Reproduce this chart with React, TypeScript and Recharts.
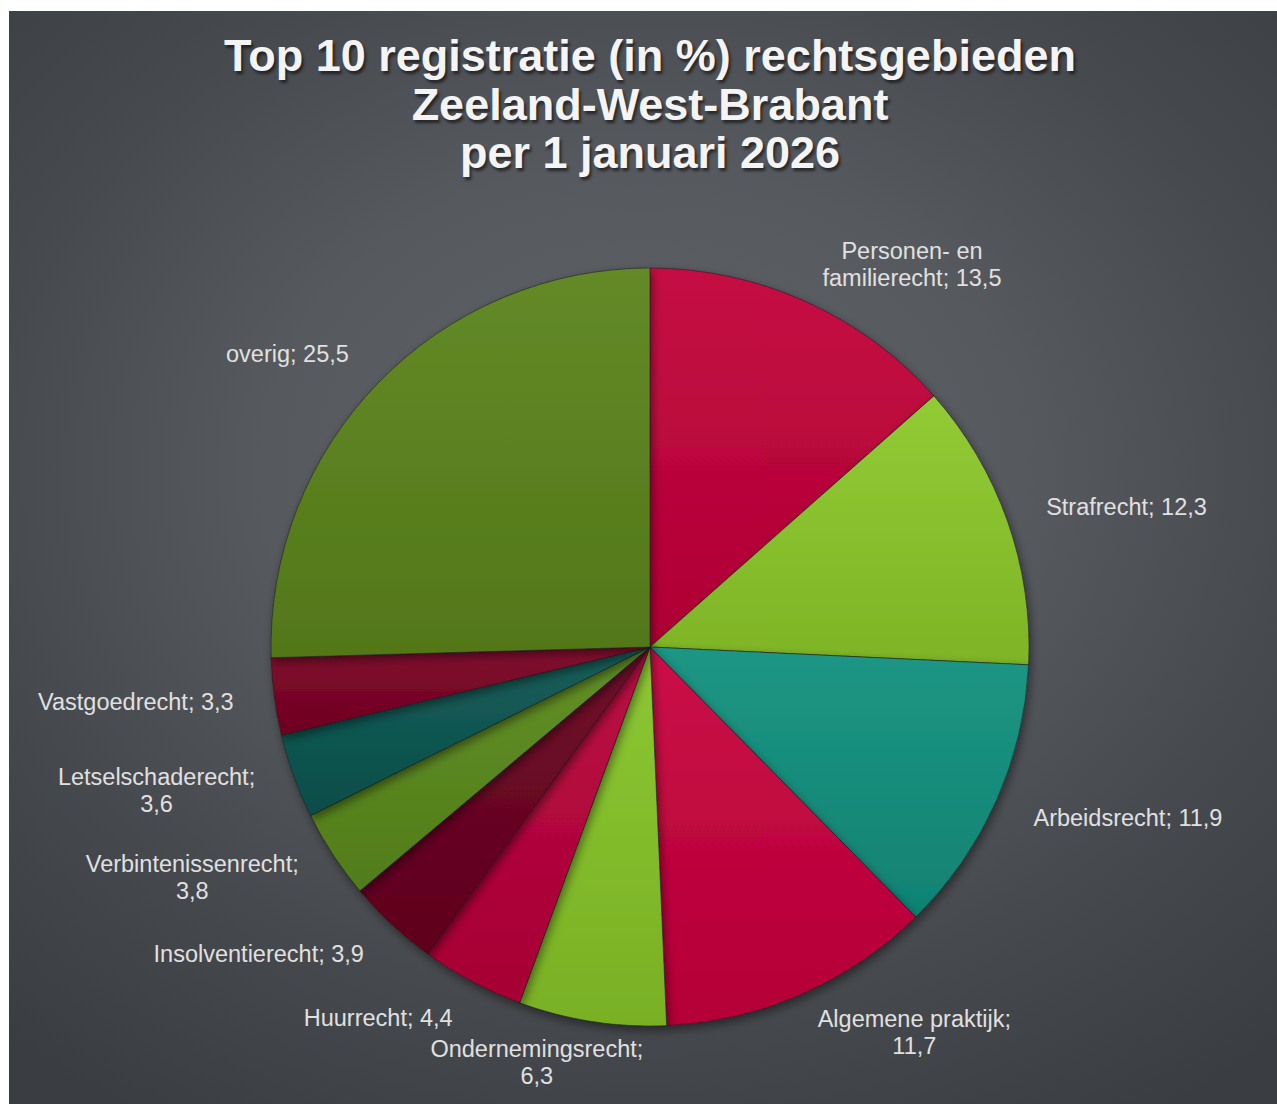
import { PieChart, Pie, Cell } from "recharts";

const CATEGORIES = [
  "Personen- en\nfamilierecht",
  "Strafrecht",
  "Arbeidsrecht",
  "Algemene praktijk",
  "Ondernemingsrecht",
  "Huurrecht",
  "Insolventierecht",
  "Verbintenissenrecht",
  "Letselschaderecht",
  "Vastgoedrecht",
  "overig",
];

const VALUES = [13.5, 12.3, 11.9, 11.7, 6.3, 4.4, 3.9, 3.8, 3.6, 3.3, 25.5];

// labels where the value wraps onto its own line
const VALUE_ON_NEW_LINE = ["Algemene praktijk", "Ondernemingsrecht", "Verbintenissenrecht", "Letselschaderecht"];

const COLORS = [
  "#c2003a", "#8cc82a", "#12907f", "#c8003d", "#86c428", "#b8003a",
  "#6a0020", "#5a8a1c", "#0b5550", "#7a0024", "#5b841c",
];

const TITLE = ["Top 10 registratie (in %) rechtsgebieden", "Zeeland-West-Brabant", "per 1 januari 2026"];

const data = CATEGORIES.map((name, i) => ({ name, value: VALUES[i] }));

const FONT = "'Liberation Sans', Arial, sans-serif";
const LABEL_SIZE = 23.5;
const RAD = Math.PI / 180;

let ctx: CanvasRenderingContext2D | null = null;
function textWidth(s: string) {
  if (!ctx) ctx = document.createElement("canvas").getContext("2d");
  if (!ctx) return s.length * LABEL_SIZE * 0.5;
  ctx.font = `${LABEL_SIZE}px ${FONT}`;
  return ctx.measureText(s).width;
}

function shade(hex: string, amt: number) {
  const n = parseInt(hex.slice(1), 16);
  const f = (c: number) => Math.max(0, Math.min(255, Math.round(c + amt * (amt > 0 ? 255 - c : c))));
  const r = f((n >> 16) & 255), g = f((n >> 8) & 255), b = f(n & 255);
  return `rgb(${r},${g},${b})`;
}

function renderLabel(props: any) {
  const { cx, cy, midAngle, outerRadius, index } = props;
  const name = CATEGORIES[index];
  const val = VALUES[index].toString().replace(".", ",");
  const lines = VALUE_ON_NEW_LINE.includes(name)
    ? [`${name};`, val]
    : `${name}; ${val}`.split("\n");
  const r = outerRadius + 41;
  const cos = Math.cos(-midAngle * RAD);
  const sin = Math.sin(-midAngle * RAD);
  const px = cx + r * cos;
  const py = cy + r * sin;
  const w = Math.max(...lines.map(textWidth));
  const k = Math.max(-1, Math.min(1, cos * 3));
  const centerX = px + (w / 2) * k;
  const lh = 27;
  const top = py - ((lines.length - 1) * lh) / 2;
  return (
    <text
      key={`lbl-${index}`}
      x={centerX}
      y={top}
      textAnchor="middle"
      fill="#e0e0e0"
      fontFamily={FONT}
      fontSize={LABEL_SIZE}
    >
      {lines.map((l, i) => (
        <tspan key={i} x={centerX} y={top + i * lh} dominantBaseline="central">{l}</tspan>
      ))}
    </text>
  );
}

export default function App() {
  return (
    <div
      style={{
        position: "absolute",
        left: 9,
        top: 11,
        width: 1268,
        height: 1093,
        overflow: "hidden",
        background: "radial-gradient(ellipse 75% 70% at 50% 42%, #606368 0%, #56595e 40%, #46494d 70%, #3a3d41 100%)",
      }}
    >
      <div
        style={{
          position: "absolute",
          top: 21,
          left: 0,
          width: 1282,
          textAlign: "center",
          color: "#f4f4f4",
          fontFamily: FONT,
          fontWeight: "bold",
          fontSize: 45,
          lineHeight: "48.5px",
          textShadow: "2px 3px 3px rgba(0,0,0,0.55)",
        }}
      >
        {TITLE.map((t) => (
          <div key={t}>{t}</div>
        ))}
      </div>
      <PieChart width={1268} height={1093} style={{ position: "absolute", left: 0, top: 0 }}>
        <defs>
          {COLORS.map((c, i) => (
            <linearGradient key={i} id={`g${i}`} x1="0" y1="0" x2="0" y2="1">
              <stop offset="0%" stopColor={shade(c, 0.05)} />
              <stop offset="100%" stopColor={shade(c, -0.1)} />
            </linearGradient>
          ))}
          <filter id="shadow" x="-10%" y="-10%" width="120%" height="120%">
            <feDropShadow dx="2" dy="4" stdDeviation="5" floodColor="#000" floodOpacity="0.45" />
          </filter>
        </defs>
        <Pie
          data={data}
          dataKey="value"
          nameKey="name"
          cx={636}
          cy={631}
          outerRadius={379}
          startAngle={90}
          endAngle={-270}
          stroke="rgba(30,30,30,0.55)"
          strokeWidth={1}
          label={renderLabel}
          labelLine={false}
          isAnimationActive={false}
          style={{ filter: "url(#shadow)" }}
        >
          {data.map((d, i) => (
            <Cell key={d.name} fill={`url(#g${i})`} />
          ))}
        </Pie>
      </PieChart>
    </div>
  );
}
